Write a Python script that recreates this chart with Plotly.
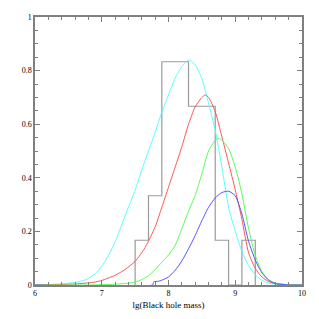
import plotly.graph_objects as go

# Histogram (fraction per bin)
hist_edges = [7.5, 7.7, 7.9, 8.1, 8.3, 8.5, 8.7, 8.9, 9.1, 9.3]
hist_vals = [0.167, 0.333, 0.833, 0.833, 0.667, 0.667, 0.167, 0.0, 0.167]

# Model curves
cyan_x = [6.0, 6.2, 6.4, 6.6, 6.7, 6.8, 6.9, 7.0, 7.1, 7.2, 7.3, 7.4, 7.5, 7.6, 7.7, 7.8, 7.9, 8.0, 8.1, 8.2, 8.3, 8.4, 8.5, 8.6, 8.7, 8.8, 8.9, 9.0, 9.1, 9.2, 9.3, 9.4, 9.5, 9.6, 9.8, 10.0]
cyan_y = [0.001, 0.002, 0.004, 0.01, 0.015, 0.024, 0.042, 0.07, 0.11, 0.16, 0.225, 0.29, 0.354, 0.43, 0.50, 0.57, 0.645, 0.71, 0.772, 0.815, 0.84, 0.822, 0.77, 0.678, 0.578, 0.44, 0.29, 0.2, 0.125, 0.072, 0.038, 0.017, 0.007, 0.003, 0.0, 0.0]

red_x = [6.0, 6.4, 6.6, 6.8, 6.9, 7.0, 7.2, 7.35, 7.5, 7.65, 7.8, 7.9, 8.0, 8.1, 8.2, 8.3, 8.4, 8.5, 8.55, 8.6, 8.7, 8.8, 8.9, 9.0, 9.1, 9.2, 9.3, 9.4, 9.5, 9.6, 9.8, 10.0]
red_y = [0.0, 0.002, 0.004, 0.008, 0.011, 0.017, 0.036, 0.058, 0.088, 0.14, 0.217, 0.29, 0.365, 0.44, 0.516, 0.6, 0.665, 0.70, 0.709, 0.70, 0.647, 0.553, 0.455, 0.355, 0.245, 0.12, 0.062, 0.03, 0.013, 0.005, 0.001, 0.0]

green_x = [6.0, 6.8, 7.0, 7.2, 7.4, 7.5, 7.6, 7.7, 7.8, 7.9, 8.0, 8.1, 8.2, 8.3, 8.4, 8.5, 8.6, 8.7, 8.75, 8.8, 8.9, 9.0, 9.1, 9.2, 9.3, 9.4, 9.5, 9.6, 9.8, 10.0]
green_y = [0.0, 0.0, 0.001, 0.003, 0.007, 0.011, 0.02, 0.035, 0.057, 0.085, 0.112, 0.148, 0.21, 0.275, 0.335, 0.415, 0.5, 0.54, 0.547, 0.54, 0.51, 0.44, 0.34, 0.21, 0.11, 0.05, 0.02, 0.007, 0.001, 0.0]

blue_x = [6.0, 7.76, 7.78, 7.85, 7.9, 8.0, 8.1, 8.2, 8.3, 8.4, 8.5, 8.6, 8.7, 8.8, 8.9, 9.0, 9.1, 9.2, 9.3, 9.4, 9.5, 9.6, 9.8, 10.0]
blue_y = [0.0, 0.0, 0.012, 0.014, 0.018, 0.03, 0.055, 0.09, 0.135, 0.185, 0.24, 0.29, 0.325, 0.345, 0.35, 0.333, 0.265, 0.163, 0.093, 0.045, 0.018, 0.006, 0.0, 0.0]

x_ticks = [6, 7, 8, 9, 10]
y_ticks = [0, 0.2, 0.4, 0.6, 0.8, 1]
y_tick_text = ["0", "0.2", "0.4", "0.6", "0.8", "1"]
x_title = "lg(Black hole mass)"

fig = go.Figure()

hx = [hist_edges[0]] + hist_edges
hy = [0] + hist_vals + [0]
fig.add_trace(go.Scatter(x=hx, y=hy, mode="lines", line=dict(color="#9a9a9a", width=1.2, shape="hv"), hoverinfo="skip"))

for xs, ys, col in [(cyan_x, cyan_y, "#55ffff"), (red_x, red_y, "#ff5555"),
                    (green_x, green_y, "#55ff55"), (blue_x, blue_y, "#5555ff")]:
    fig.add_trace(go.Scatter(x=xs, y=ys, mode="lines",
                             line=dict(color=col, width=1, shape="spline", smoothing=0.6),
                             hoverinfo="skip"))

font = dict(family="Liberation Serif", size=8, color="#000000")
title_font = dict(family="Liberation Serif", size=9, color="#000000")
axis_common = dict(showgrid=False, zeroline=False, showline=True, linecolor="#808080", linewidth=1.5,
                   mirror="ticks", ticks="inside", ticklen=5, tickcolor="#808080", tickwidth=1,
                   tickfont=font, automargin=False)

fig.update_layout(
    width=319, height=319,
    margin=dict(l=35, r=17, t=17, b=34),
    paper_bgcolor="white", plot_bgcolor="white",
    showlegend=False,
    xaxis=dict(range=[6, 10], tickvals=x_ticks, ticktext=[str(v) for v in x_ticks],
               minor=dict(dtick=0.2, ticks="inside", ticklen=3, tickcolor="#808080"),
               title=dict(text=x_title, font=title_font, standoff=4), **axis_common),
    yaxis=dict(range=[0, 1], tickvals=y_ticks, ticktext=y_tick_text,
               minor=dict(dtick=0.05, ticks="inside", ticklen=3, tickcolor="#808080"),
               **axis_common),
)

fig.write_html("out.html", config={"displayModeBar": False},
               post_script="document.body.style.margin='0px';")
